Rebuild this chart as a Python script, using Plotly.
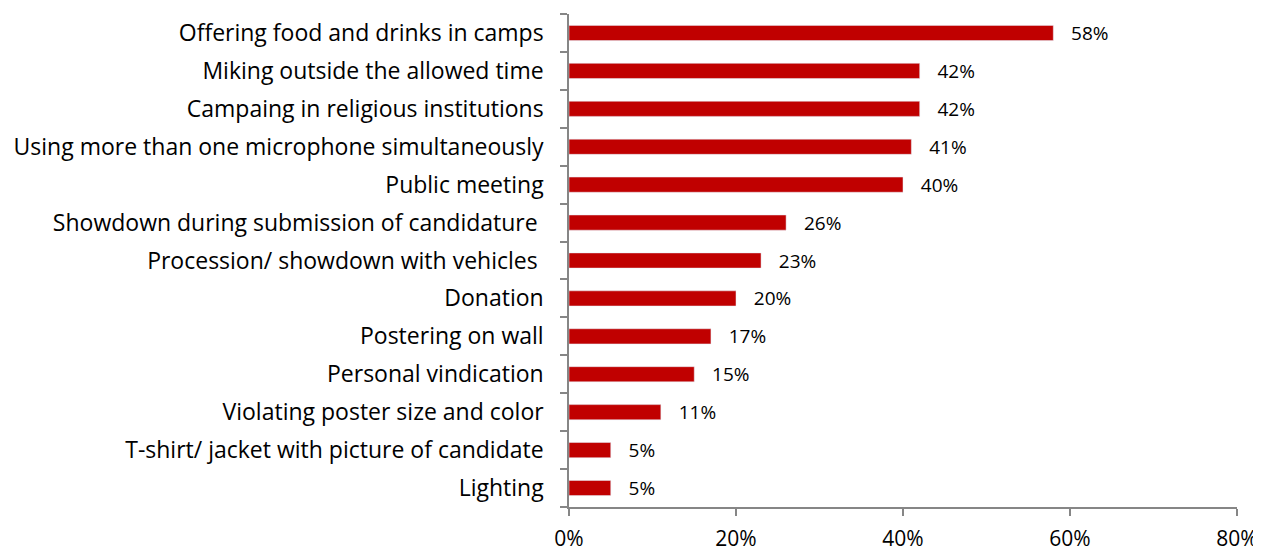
import plotly.graph_objects as go

categories = [
    "Offering food and drinks in camps",
    "Miking outside the allowed time",
    "Campaing in religious institutions",
    "Using more than one microphone simultaneously",
    "Public meeting",
    "Showdown during submission of candidature ",
    "Procession/ showdown with vehicles ",
    "Donation",
    "Postering on wall",
    "Personal vindication",
    "Violating poster size and color",
    "T-shirt/ jacket with picture of candidate",
    "Lighting",
]
values = [58, 42, 42, 41, 40, 26, 23, 20, 17, 15, 11, 5, 5]
x_ticks = [0, 20, 40, 60, 80]
x_tick_labels = ["0%", "20%", "40%", "60%", "80%"]

FONT = "Open Sans"

fig = go.Figure(go.Bar(
    y=categories,
    x=values,
    orientation="h",
    marker=dict(color="#C00000"),
    width=0.4,
    text=["   " + str(v) + "%" for v in values],
    textposition="outside",
    constraintext="none",
    textfont=dict(family=FONT, size=19, color="#000000"),
    cliponaxis=False,
))

# page body has an 8px margin, so the figure is sized to fit inside the window
fig.update_layout(
    width=1253, height=545,
    margin=dict(l=561, r=24, t=6, b=46, autoexpand=False),
    plot_bgcolor="white", paper_bgcolor="white",
    showlegend=False,
    font=dict(family=FONT, color="#000000"),
)
fig.update_xaxes(
    range=[0, 80], tickvals=x_ticks, ticktext=x_tick_labels,
    showgrid=False, zeroline=False, automargin=False,
    showline=True, linecolor="#868686", linewidth=1.5,
    ticks="outside", ticklen=7, tickcolor="#868686", tickwidth=1.5,
    ticklabelstandoff=5,
    tickfont=dict(family=FONT, size=21),
)
fig.update_yaxes(
    categoryorder="array", categoryarray=categories[::-1],
    showgrid=False, zeroline=False, automargin=False,
    showline=True, linecolor="#868686", linewidth=1.5,
    ticks="outside", ticklen=7, tickcolor="#868686", tickwidth=1.5,
    tickson="boundaries", ticklabelstandoff=19,
    tickfont=dict(family=FONT, size=23),
)

fig.write_html("out.html")
